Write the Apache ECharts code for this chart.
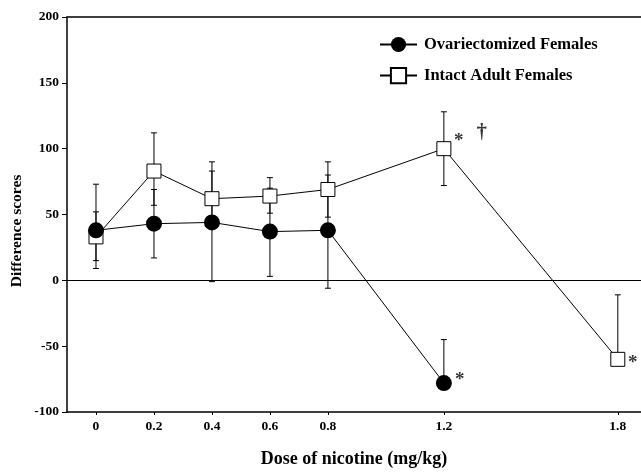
<!DOCTYPE html>
<html>
<head>
<meta charset="utf-8">
<script src="https://cdn.jsdelivr.net/npm/echarts@6/dist/echarts.min.js"></script>
<style>html,body{margin:0;padding:0;background:#fff;overflow:hidden}#c{width:641px;height:473px}</style>
</head>
<body>
<div id="c"></div>
<script>
// ---- data ----
const ovxDoses = [0, 0.2, 0.4, 0.6, 0.8, 1.2];
const ovxMean  = [38, 43, 44, 37, 38, -78];
const ovxHigh  = [73, 69, 90, 70, 80, -45];
const ovxLow   = [9, 17, -1, 3, -6, -78];

const intDoses = [0, 0.2, 0.4, 0.6, 0.8, 1.2, 1.8];
const intMean  = [33, 83, 62, 64, 69, 100, -60];
const intHigh  = [52, 112, 83, 78, 90, 128, -11];
const intLow   = [15, 57, 41, 51, 48, 72, -60];

const xTicks = [0, 0.2, 0.4, 0.6, 0.8, 1.2, 1.8];

// annotations: [dose, value, text, dx, dy]
const annotations = [
  [1.2, 100, '*', 15, -8],
  [1.2, 100, '\u2020', 38, -16],
  [1.2, -78, '*', 16, -3],
  [1.8, -60, '*', 15, 4]
];

const FONT = '"Liberation Serif", "Times New Roman", serif';

const chart = echarts.init(document.getElementById('c'), null, {renderer: 'canvas'});

function errRender(params, api) {
  const x = api.value(0), lo = api.value(1), hi = api.value(2), m = api.value(3);
  const pLo = api.coord([x, lo]), pHi = api.coord([x, hi]);
  const cap = 3;
  const st = {stroke: '#000', lineWidth: 1};
  const children = [{type: 'line', shape: {x1: pLo[0], y1: pLo[1], x2: pHi[0], y2: pHi[1]}, style: st}];
  if (hi !== m) children.push({type: 'line', shape: {x1: pHi[0]-cap, y1: pHi[1], x2: pHi[0]+cap, y2: pHi[1]}, style: st});
  if (lo !== m) children.push({type: 'line', shape: {x1: pLo[0]-cap, y1: pLo[1], x2: pLo[0]+cap, y2: pLo[1]}, style: st});
  return {type: 'group', children};
}

const ovxErr = ovxDoses.map((d, i) => [d, ovxLow[i], ovxHigh[i], ovxMean[i]]);
const intErr = intDoses.map((d, i) => [d, intLow[i], intHigh[i], intMean[i]]);

const option = {
  animation: false,
  backgroundColor: '#fff',
  textStyle: {fontFamily: FONT, color: '#000'},
  grid: {left: 67, right: 0, top: 17, height: 401, containLabel: false},
  legend: {
    orient: 'vertical',
    left: 374, top: 31,
    itemWidth: 37, itemHeight: 19, itemGap: 14,
    textStyle: {fontFamily: FONT, fontWeight: 'bold', fontSize: 16.5, color: '#000', padding: [0, 0, 0, 2]},
    data: ['Ovariectomized Females', 'Intact Adult Females']
  },
  xAxis: [{
    type: 'value', min: -0.1, max: 1.88,
    axisLine: {onZero: false, lineStyle: {color: '#000', width: 1.5}},
    axisTick: {show: true, length: 3, inside: false, customValues: xTicks, lineStyle: {color: '#000'}},
    axisLabel: {customValues: xTicks, fontFamily: FONT, fontWeight: 'bold', fontSize: 13.5, color: '#000', margin: 8},
    splitLine: {show: false},
    name: 'Dose of nicotine (mg/kg)', nameLocation: 'middle', nameGap: 38,
    nameTextStyle: {fontFamily: FONT, fontWeight: 'bold', fontSize: 18, color: '#000'}
  }, {
    type: 'value', min: -0.1, max: 1.88, position: 'top',
    axisLine: {onZero: false, lineStyle: {color: '#000', width: 1.5}},
    axisTick: {show: false}, axisLabel: {show: false}, splitLine: {show: false}
  }],
  yAxis: {
    type: 'value', min: -100, max: 200, interval: 50,
    axisLine: {show: true, onZero: false, lineStyle: {color: '#000', width: 1.5}},
    axisTick: {show: true, length: 5, lineStyle: {color: '#000'}},
    axisLabel: {fontFamily: FONT, fontWeight: 'bold', fontSize: 13.5, color: '#000', margin: 8},
    splitLine: {show: false}
  },
  graphic: [{
    type: 'text', x: 17, y: 231, rotation: Math.PI / 2,
    style: {text: 'Difference scores', fontFamily: FONT, fontWeight: 'bold', fontSize: 15.5, fill: '#000', align: 'center', verticalAlign: 'middle'}
  }],
  series: [
    {
      type: 'custom', name: 'intErr', renderItem: errRender, data: intErr, z: 1,
      encode: {x: 0, y: [1, 2]}, silent: true
    },
    {
      type: 'custom', name: 'ovxErr', renderItem: errRender, data: ovxErr, z: 1,
      encode: {x: 0, y: [1, 2]}, silent: true
    },
    {
      type: 'line', name: 'Intact Adult Females', z: 3,
      data: intDoses.map((d, i) => [d, intMean[i]]),
      symbol: 'rect', symbolSize: 14, showAllSymbol: true,
      lineStyle: {color: '#000', width: 1},
      itemStyle: {color: '#fff', borderColor: '#000', borderWidth: 1},
      markLine: {
        silent: true, symbol: 'none', label: {show: false},
        lineStyle: {color: '#000', width: 1, type: 'solid'},
        data: [{yAxis: 0}]
      }
    },
    {
      type: 'line', name: 'Ovariectomized Females', z: 4,
      data: ovxDoses.map((d, i) => [d, ovxMean[i]]),
      symbol: 'circle', symbolSize: 16, showAllSymbol: true,
      lineStyle: {color: '#000', width: 1},
      itemStyle: {color: '#000', borderColor: '#000', borderWidth: 0}
    },
    {
      type: 'scatter', name: 'ann', z: 5, silent: true,
      symbolSize: 0,
      data: annotations.map(a => ({
        value: [a[0], a[1]],
        label: {show: true, formatter: a[2], offset: [a[3], a[4]], position: 'inside',
                fontFamily: FONT, fontWeight: 'bold', fontSize: a[2] === '*' ? 19 : 21, color: '#000'}
      }))
    }
  ]
};
chart.setOption(option);
</script>
</body>
</html>
